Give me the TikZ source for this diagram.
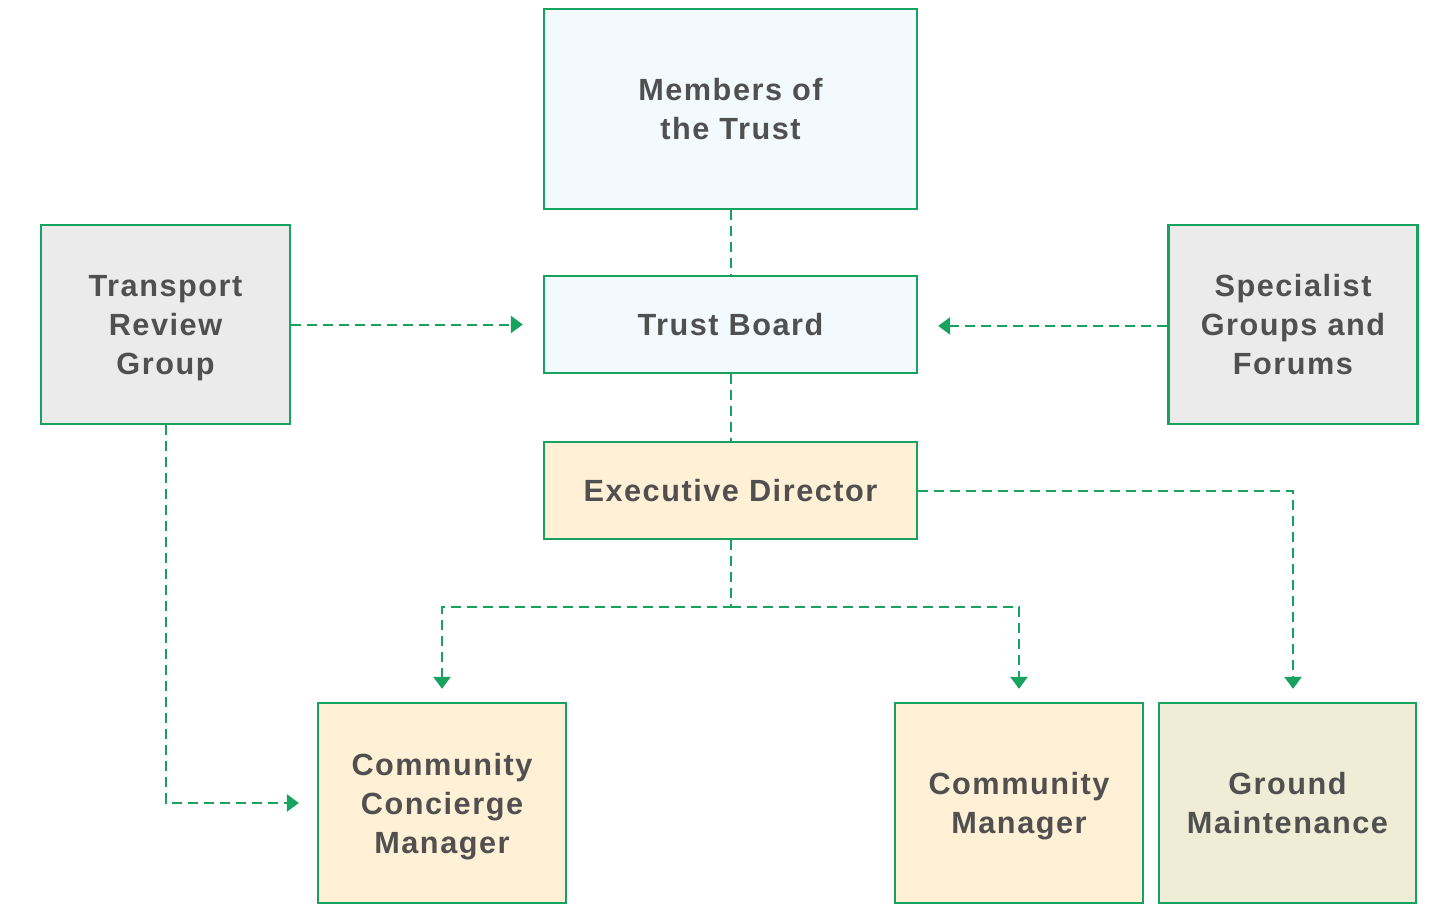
\documentclass[tikz,border=0pt]{standalone}
\usepackage{fontspec}
\setmainfont{Liberation Sans}
\usetikzlibrary{arrows.meta}
\definecolor{edgegreen}{HTML}{17A35F}
\definecolor{txtgray}{HTML}{505050}
\definecolor{fillblue}{HTML}{F2FAFD}
\definecolor{fillgray}{HTML}{EBEBEB}
\definecolor{fillcream}{HTML}{FFF0D6}
\definecolor{fillolive}{HTML}{EFEDD5}

\begin{document}
\begin{tikzpicture}[
  x=0.75pt, y=-0.75pt,
  box/.style={draw=edgegreen, line width=1.8pt, rectangle, align=center, text=txtgray,
              font=\bfseries\fontsize{23}{29.25}\selectfont\addfontfeature{LetterSpace=5},
              text depth=0pt, inner sep=2pt},
  link/.style={draw=edgegreen, line width=1.5pt, dash pattern=on 7.5pt off 4.5pt},
  flow/.style={link, -{Triangle[length=9pt, width=13pt]}}
]
\useasboundingbox (0,0) rectangle (1443,904);
\node[box, fill=fillblue, minimum width=279.75pt, minimum height=150pt]   (members)   at (730.5, 109)   {Members of\\the Trust};
\node[box, fill=fillblue, minimum width=279.75pt, minimum height=72.75pt] (board)     at (730.5, 324.5) {Trust Board};
\node[box, fill=fillcream, minimum width=279.75pt, minimum height=72.75pt] (exec)     at (730.5, 490.5) {Executive Director};
\node[box, fill=fillgray, minimum width=186.75pt, minimum height=149.25pt] (transport) at (165.5, 324.5) {Transport\\Review\\Group};
\node[box, fill=fillgray, minimum width=186.75pt, minimum height=149.25pt] (specialist) at (1293, 324.5) {Specialist\\Groups and\\Forums};
\node[box, fill=fillcream, minimum width=186pt, minimum height=150pt]      (concierge) at (442, 803)     {Community\\Concierge\\Manager};
\node[box, fill=fillcream, minimum width=186pt, minimum height=150pt]      (cmanager)  at (1019, 803)    {Community\\Manager};
\node[box, fill=fillolive, minimum width=192.75pt, minimum height=150pt]   (ground)    at (1287.5, 803)  {Ground\\Maintenance};
\coordinate (split) at (730.5, 607);
% dashed links between the boxes
\draw[link] (members) -- (board);
\draw[link] (board) -- (exec);
\draw[flow, shorten >=15pt] (transport.east) -- (transport.east -| board.west);
\draw[flow, shorten >=15pt] ([yshift=-1.1pt]specialist.west) -- ([yshift=-1.1pt]specialist.west -| board.east);
\draw[flow, shorten >=9.75pt] (exec.south) -- (split) -| (concierge.north);
\draw[flow, shorten >=9.75pt] (split) -| (cmanager.north);
\draw[flow, shorten >=9.75pt] (exec.east) -| (specialist.south |- ground.north);
\draw[flow, shorten >=13.5pt] (transport.south) |- (concierge.west);
\end{tikzpicture}
\end{document}
